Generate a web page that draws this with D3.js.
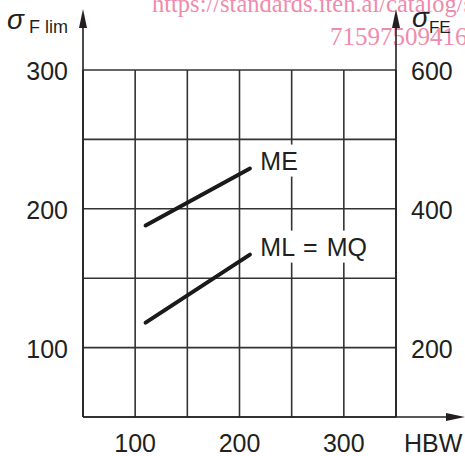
<!DOCTYPE html>
<html>
<head>
<meta charset="utf-8">
<script src="https://cdn.jsdelivr.net/npm/d3@7"></script>
<style>
  body { margin: 0; background: #fff; }
  text { font-family: "Liberation Sans", Arial, sans-serif; fill: #231f20; }
</style>
</head>
<body>
<div id="chart"></div>
<script>
// data
const hbwTicks = [100, 200, 300];
const leftTicks = [100, 200, 300];
const rightTicks = [200, 400, 600];
const gridX = [50, 100, 150, 200, 250, 300, 350];
const gridY = [50, 100, 150, 200, 250, 300];
const meLine = [[110, 188], [210, 229]];
const mlLine = [[110, 118], [210, 167]];
const labels = [
  { text: "ME", hbw: 220, val: 229 },
  { text: "ML = MQ", hbw: 220, val: 167 }
];

const width = 465, height = 456;

const svg = d3.select("#chart")
  .append("svg")
  .attr("width", width)
  .attr("height", height);

const x = d3.scaleLinear().domain([50, 350]).range([83, 396]);
const y = d3.scaleLinear().domain([50, 300]).range([417, 70]);
const y2 = d3.scaleLinear().domain([100, 600]).range([417, 70]);

// watermark
svg.append("text")
  .attr("x", 152).attr("y", 12)
  .style("font-family", "'Liberation Serif', 'Times New Roman', serif")
  .style("font-size", "24.5px")
  .style("fill", "#ef8bac")
  .text("https://standards.iteh.ai/catalog/s");
svg.append("text")
  .attr("x", 330).attr("y", 45)
  .style("font-family", "'Liberation Serif', 'Times New Roman', serif")
  .style("font-size", "25px")
  .style("fill", "#ef8bac")
  .text("71597509416");

// grid
const grid = svg.append("g").attr("stroke", "#333").attr("stroke-width", 1.6);
grid.selectAll("line.v")
  .data(gridX)
  .enter().append("line")
  .attr("x1", d => x(d)).attr("x2", d => x(d))
  .attr("y1", y(50)).attr("y2", y(300));
grid.selectAll("line.h")
  .data(gridY)
  .enter().append("line")
  .attr("class", "h")
  .attr("x1", x(50)).attr("x2", x(350))
  .attr("y1", d => y(d)).attr("y2", d => y(d));

// axes with arrows
const ax = svg.append("g").attr("stroke", "#231f20").attr("stroke-width", 1.6);
ax.append("line").attr("x1", x(50)).attr("x2", x(50)).attr("y1", y(50)).attr("y2", 22);
ax.append("line").attr("x1", x(350)).attr("x2", x(350)).attr("y1", y(50)).attr("y2", 22);
ax.append("line").attr("x1", x(50)).attr("x2", 452).attr("y1", y(50)).attr("y2", y(50));

const arrows = [
  [[x(50) - 4, 28], [x(50), 9], [x(50) + 4, 28]],
  [[x(350) - 4, 28], [x(350), 9], [x(350) + 4, 28]],
  [[446, y(50) - 4], [465, y(50)], [446, y(50) + 4]]
];
svg.selectAll("path.arrow")
  .data(arrows)
  .enter().append("path")
  .attr("class", "arrow")
  .attr("d", d => "M" + d.join("L") + "Z")
  .attr("fill", "#231f20");

// tick labels
svg.selectAll("text.yl")
  .data(leftTicks)
  .enter().append("text")
  .attr("x", 68).attr("y", d => y(d) + 10)
  .attr("text-anchor", "end")
  .style("font-size", "25px")
  .text(d => d);
svg.selectAll("text.yr")
  .data(rightTicks)
  .enter().append("text")
  .attr("x", 411).attr("y", d => y2(d) + 10)
  .style("font-size", "25px")
  .text(d => d);
svg.selectAll("text.xl")
  .data(hbwTicks)
  .enter().append("text")
  .attr("x", d => x(d)).attr("y", 452)
  .attr("text-anchor", "middle")
  .style("font-size", "25px")
  .text(d => d);
svg.append("text")
  .attr("x", 404).attr("y", 452)
  .style("font-size", "25px")
  .text("HBW");

// axis titles
const t1 = svg.append("text").attr("x", 7).attr("y", 29);
t1.append("tspan").style("font-size", "28px").style("font-style", "italic").text("σ");
t1.append("tspan").attr("dx", 5).attr("dy", 4).style("font-size", "18px").text("F lim");
const t2 = svg.append("text").attr("x", 412).attr("y", 27);
t2.append("tspan").style("font-size", "28px").style("font-style", "italic").text("σ");
t2.append("tspan").attr("dx", 0).attr("dy", 6).style("font-size", "17px").text("FE");

// curves
const line = d3.line().x(d => x(d[0])).y(d => y(d[1]));
svg.selectAll("path.curve")
  .data([meLine, mlLine])
  .enter().append("path")
  .attr("class", "curve")
  .attr("d", line)
  .attr("fill", "none")
  .attr("stroke", "#1a1a1a")
  .attr("stroke-width", 4)
  .attr("stroke-linecap", "round");

// labels with white background
const lab = svg.selectAll("g.lab")
  .data(labels)
  .enter().append("g");
lab.each(function(d) {
  const g = d3.select(this);
  const t = g.append("text")
    .attr("x", x(d.hbw)).attr("y", y(d.val) + 1)
    .style("font-size", "25px")
    .style("word-spacing", "2px")
    .text(d.text);
  const b = t.node().getBBox();
  g.insert("rect", "text")
    .attr("x", b.x - 2).attr("y", b.y - 2)
    .attr("width", b.width + 4).attr("height", b.height + 4)
    .attr("fill", "#fff");
});
</script>
</body>
</html>
